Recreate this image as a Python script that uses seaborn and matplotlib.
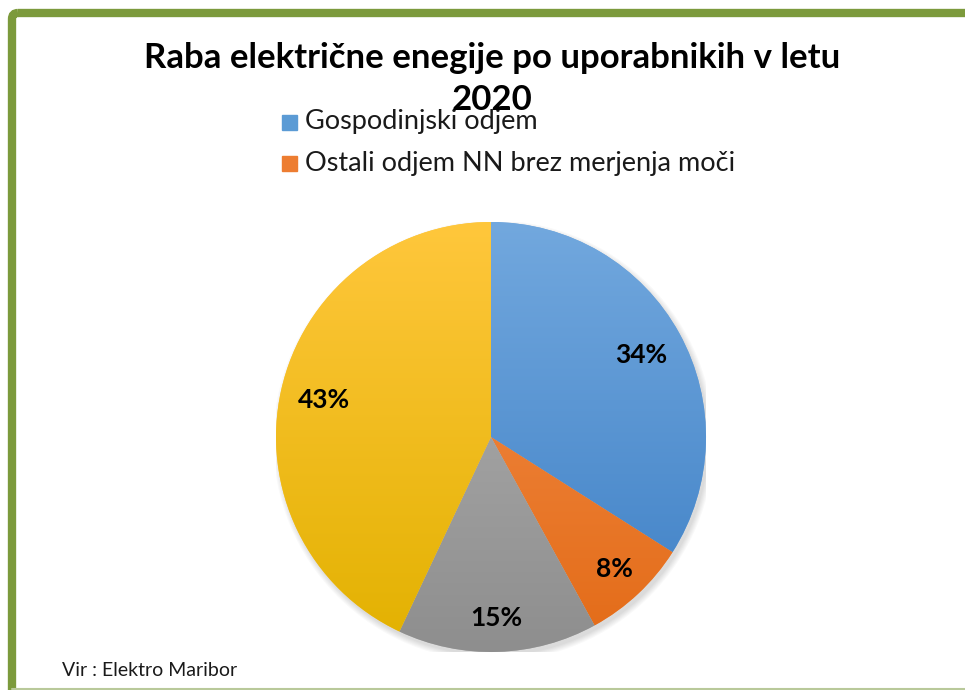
import matplotlib
matplotlib.use("Agg")
import matplotlib.pyplot as plt
import seaborn as sns
import numpy as np
from matplotlib.colors import LinearSegmentedColormap
from matplotlib.patches import FancyBboxPatch, Circle

sns.set_theme(style="white")
plt.rcParams['font.family'] = ['Lato', 'DejaVu Sans']

# Data
categories = ["Gospodinjski odjem", "Ostali odjem NN brez merjenja moči",
              "Ostali odjem", "Odjem na SN in VN"]
shares = [34, 8, 15, 43]
legend_shown = 2
top_colors = ["#72a8de", "#f4904e", "#b4b4b4", "#ffc73c"]
bottom_colors = ["#3d7fc5", "#e36b17", "#8e8e8e", "#e2b100"]
legend_colors = ["#5b9bd5", "#ed7d31"]

W, H = 965, 690
fig = plt.figure(figsize=(W / 100, H / 100), dpi=100)

# green frame (only left and top edges visible)
frame_ax = fig.add_axes([0, 0, 1, 1])
frame_ax.set_xlim(0, W)
frame_ax.set_ylim(H, 0)
frame_ax.axis("off")
frame_ax.add_patch(FancyBboxPatch((12, 13), W + 40, H + 40,
                                  boxstyle="round,pad=0,rounding_size=6",
                                  fill=False, edgecolor="#7c9a3c", linewidth=6))
frame_ax.plot([12, W], [H - 1.5, H - 1.5], color="#b9c99a", lw=1.5)

# pie axes
cx, cy, r = 491, 437, 215
ax = fig.add_axes([(cx - r) / W, (H - cy - r) / H, 2 * r / W, 2 * r / H])
ax.axis("off")

# soft shadow
for k in range(6):
    ax.add_patch(Circle((0.012, -0.018), 1.0 + 0.005 * k, color="black",
                        alpha=0.025, lw=0, zorder=0))
wedges, _ = ax.pie(shares, startangle=90, counterclock=False, radius=1.0,
                   colors=top_colors, wedgeprops=dict(linewidth=0))

grad = np.linspace(0, 1, 256).reshape(-1, 1)
for w, c1, c2 in zip(wedges, top_colors, bottom_colors):
    cmap = LinearSegmentedColormap.from_list("g", [c1, c2])
    im = ax.imshow(grad, extent=[-1, 1, -1, 1], cmap=cmap, aspect="auto",
                   origin="upper", zorder=2)
    im.set_clip_path(w)
ax.set_xlim(-1, 1)
ax.set_ylim(-1, 1)

# percentage labels
angle = 90
for w, v in zip(wedges, shares):
    sweep = v / 100 * 360
    mid = np.deg2rad(angle - sweep / 2)
    angle -= sweep
    rr = 0.795 if v > 30 else 0.84
    ax.text(rr * np.cos(mid), rr * np.sin(mid), f"{v}%", ha="center", va="center",
            fontsize=19, fontweight="bold", color="black", zorder=5)

# title
fig.text(492 / W, 1 - 58 / H, "Raba električne enegije po uporabnikih v letu",
         ha="center", va="center", fontsize=25, fontweight="bold", color="black")
fig.text(492 / W, 1 - 100 / H, "2020",
         ha="center", va="center", fontsize=25, fontweight="bold", color="black")

# legend (first two entries)
leg_y = [122, 163]
for i in range(legend_shown):
    y = leg_y[i]
    frame_ax.add_patch(plt.Rectangle((282, y - 7.5), 15, 15, color=legend_colors[i]))
    frame_ax.text(305, y, categories[i], ha="left", va="center",
                  fontsize=19.5, color="#1a1a1a")

fig.text(62 / W, 1 - 670 / H, "Vir : Elektro Maribor", ha="left", va="center",
         fontsize=14, color="#1a1a1a")

fig.savefig("out.png", dpi=100)
